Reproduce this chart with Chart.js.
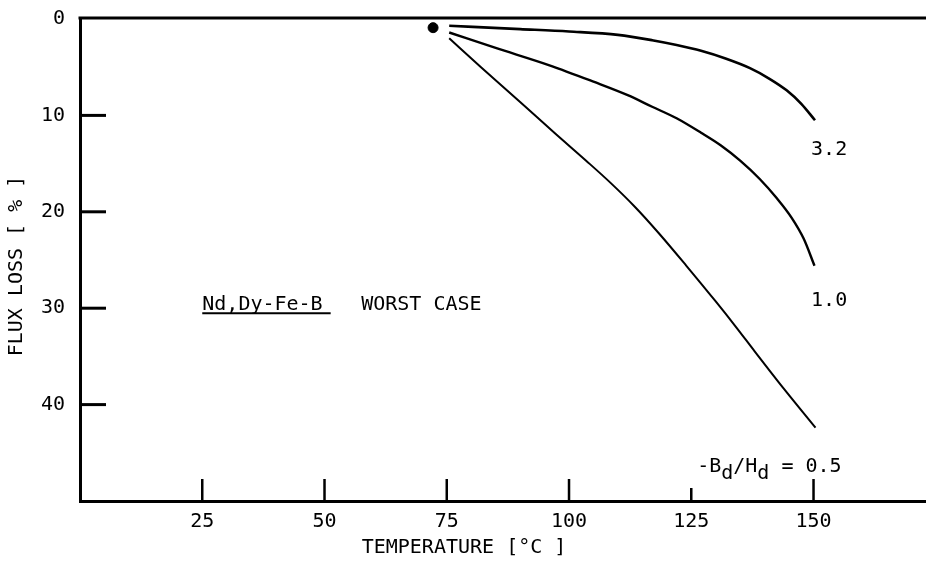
<!doctype html>
<html lang="en">
<head>
<meta charset="utf-8">
<title>Flux loss vs temperature — Nd,Dy-Fe-B worst case</title>
<script src="https://cdn.jsdelivr.net/npm/chart.js@4.4.1/dist/chart.umd.min.js"></script>
<style>
  html,body{margin:0;background:#fff}
  .wrap{width:926px;height:561px}
</style>
</head>
<body>
<div class="wrap"><canvas id="fluxChart" width="926" height="561"></canvas></div>
<script>
  // Irreversible flux loss (%) vs exposure temperature, one curve per load line -Bd/Hd.
  const temps32 = [75.5, 90, 100, 110, 117, 122, 127, 132, 137, 141, 144.5, 147.5, 150.3];
  const loss32  = [0.7, 1.05, 1.3, 1.65, 2.2, 2.7, 3.3, 4.1, 5.1, 6.2, 7.4, 8.8, 10.5];

  const temps10 = [75.5, 85, 96, 105, 112, 117, 122, 127, 131, 135, 139, 142.5, 145.5, 148, 150.2];
  const loss10  = [1.4, 3.0, 4.8, 6.5, 7.9, 9.1, 10.3, 11.8, 13.1, 14.7, 16.6, 18.6, 20.6, 22.8, 25.6];

  const temps05 = [75.5, 82, 90, 97, 103.5, 108.5, 113.5, 118.5, 124, 130, 134, 138, 144, 150.4];
  const loss05  = [2.0, 5.0, 8.6, 11.8, 14.7, 17.0, 19.5, 22.3, 25.6, 29.3, 31.85, 34.5, 38.4, 42.4];

  // common starting point of the three curves
  const startTemp = [72.2];
  const startLoss = [0.9];

  const xTicks = [25, 50, 75, 100, 125, 150];
  const yTicks = [0, 10, 20, 30, 40];

  // curve labels and the alloy note, placed in data units
  const notes = [
    { text: "3.2", x: 149.5, y: 14.1 },
    { text: "1.0", x: 149.5, y: 29.8 },
    { text: "WORST CASE", x: 57.5, y: 30.2 },
  ];
  const alloy = { text: "Nd,Dy-Fe-B", x: 25, y: 30.2 };
  const ratio = { x: 126.2, y: 47.0 };

  const INK = "#000";
  const FONT = "DejaVu Sans Mono";
  const pts = (xs, ys) => xs.map((x, i) => ({ x, y: ys[i] }));

  const curve = (xs, ys, w) => ({
    data: pts(xs, ys), borderColor: INK, borderWidth: w, pointRadius: 0,
    cubicInterpolationMode: "monotone", fill: false,
  });

  // keep the plot box fixed: no extra room for the end tick labels
  const noOverflow = (s) => { s.paddingTop = 0; s.paddingBottom = 0; s.paddingLeft = 0; s.paddingRight = 0; };

  // top frame line, inward tick marks and all the hand-lettered text
  const frame = {
    id: "frame",
    afterDatasetsDraw(chart) {
      const { ctx, chartArea: a, scales: { x, y } } = chart;
      ctx.save();
      ctx.strokeStyle = INK;
      ctx.lineCap = "butt";

      ctx.lineWidth = 3;
      ctx.beginPath(); ctx.moveTo(a.left - 1.5, a.top - 1); ctx.lineTo(a.right, a.top - 1); ctx.stroke();

      for (const v of yTicks) {
        if (v === 0) continue;
        const py = y.getPixelForValue(v);
        ctx.beginPath(); ctx.moveTo(a.left, py); ctx.lineTo(a.left + 26, py); ctx.stroke();
      }
      ctx.lineWidth = 2.5;
      for (const v of xTicks) {
        const px = x.getPixelForValue(v);
        const len = v === 125 ? 13 : 22;
        ctx.beginPath(); ctx.moveTo(px, a.bottom); ctx.lineTo(px, a.bottom - len); ctx.stroke();
      }

      ctx.fillStyle = INK;
      ctx.font = `20px "${FONT}"`;
      ctx.textBaseline = "alphabetic";
      ctx.textAlign = "left";
      for (const n of notes) ctx.fillText(n.text, x.getPixelForValue(n.x), y.getPixelForValue(n.y));

      const ax = x.getPixelForValue(alloy.x), ay = y.getPixelForValue(alloy.y);
      ctx.fillText(alloy.text, ax, ay);
      const aw = ctx.measureText(alloy.text).width;
      ctx.lineWidth = 2;
      ctx.beginPath(); ctx.moveTo(ax, ay + 3); ctx.lineTo(ax + aw + 8, ay + 3); ctx.stroke();

      // -Bd/Hd = 0.5 with subscripts
      let rx = x.getPixelForValue(ratio.x);
      const ry = y.getPixelForValue(ratio.y);
      for (const [t, dy] of [["-B", 0], ["d", 7], ["/H", 0], ["d", 7], [" = 0.5", 0]]) {
        ctx.fillText(t, rx, ry + dy);
        rx += ctx.measureText(t).width;
      }

      // axis titles
      ctx.textAlign = "center";
      ctx.textBaseline = "middle";
      ctx.fillText("TEMPERATURE [°C ]", 464, a.bottom + 47);
      ctx.translate(17, 266);
      ctx.rotate(-Math.PI / 2);
      ctx.fillText("FLUX LOSS [ % ]", 0, 0);
      ctx.restore();
    },
  };

  const tickFont = { family: FONT, size: 20 };

  new Chart(document.getElementById("fluxChart"), {
    type: "line",
    data: {
      datasets: [
        curve(temps32, loss32, 2.6),
        curve(temps10, loss10, 2.4),
        curve(temps05, loss05, 2),
        { type: "scatter", data: pts(startTemp, startLoss), pointRadius: 5, pointBackgroundColor: INK, pointBorderColor: INK, showLine: false },
      ],
    },
    options: {
      responsive: false,
      animation: false,
      layout: { autoPadding: false, padding: { top: 19, left: 0, right: 0, bottom: 0 } },
      plugins: { legend: { display: false }, tooltip: { enabled: false } },
      scales: {
        x: {
          type: "linear", min: 0, max: 173,
          afterBuildTicks: (s) => { s.ticks = xTicks.map((v) => ({ value: v })); },
          afterFit: (s) => { s.height = 60; noOverflow(s); },
          grid: { display: false, drawTicks: false },
          border: { display: true, color: INK, width: 3 },
          ticks: { color: INK, font: tickFont, padding: 9, maxRotation: 0, autoSkip: false },
        },
        y: {
          type: "linear", min: 0, max: 50, reverse: true,
          afterBuildTicks: (s) => { s.ticks = yTicks.map((v) => ({ value: v })); },
          afterFit: (s) => { s.width = 80; noOverflow(s); },
          grid: { display: false, drawTicks: false },
          border: { display: true, color: INK, width: 3 },
          ticks: { color: INK, font: tickFont, padding: 15 },
        },
      },
    },
    plugins: [frame],
  });
</script>
</body>
</html>
